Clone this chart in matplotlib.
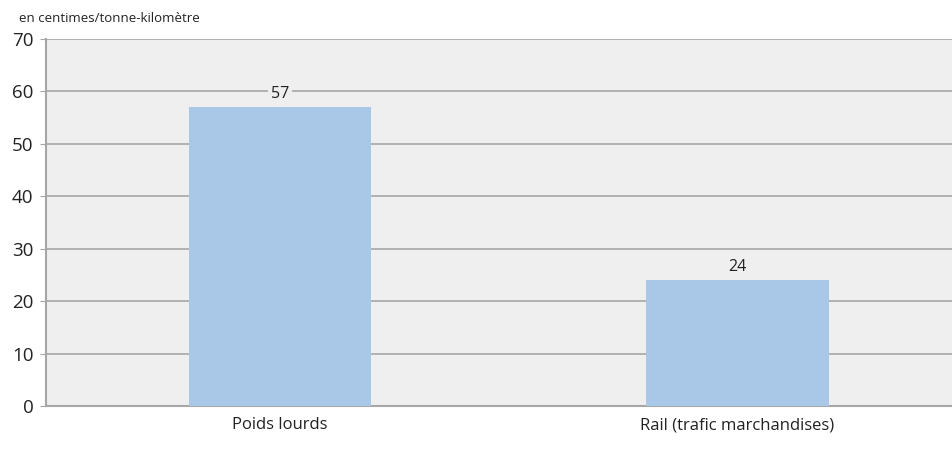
import matplotlib.pyplot as plt

categories = ["Poids lourds", "Rail (trafic marchandises)"]
values = [57, 24]
y_ticks = [0, 10, 20, 30, 40, 50, 60, 70]

plt.rcParams['font.family'] = ['Open Sans', 'DejaVu Sans']

fig = plt.figure(figsize=(9.52, 4.5), dpi=100)
ax = fig.add_axes([46 / 952, 44 / 450, 906 / 952, 367 / 450])

bg = '#efefef'
ax.set_facecolor(bg)
x = list(range(len(categories)))
ax.bar(x, values, width=0.40, color='#a9c8e8', zorder=3)

for xi, v in zip(x, values):
    ax.text(xi, v + 1.0, str(v), ha='center', va='bottom', fontsize=11.5, color='#222222',
            bbox=dict(facecolor=bg, edgecolor='none', pad=2), zorder=4)

ax.set_xlim(-0.512, 1.470)
ax.set_ylim(0, 70)
ax.set_yticks(y_ticks)
ax.yaxis.grid(True, color='#a6a6a6', linewidth=1.2, zorder=0)
ax.set_axisbelow(True)
ax.set_xticks(x)
ax.set_xticklabels(categories, fontsize=12, color='#222222')
ax.tick_params(axis='x', length=0, pad=8)
ax.tick_params(axis='y', length=4, color='#a6a6a6', labelsize=13.5, labelcolor='#222222', pad=5)

for s in ['top', 'right']:
    ax.spines[s].set_visible(False)
for s in ['left', 'bottom']:
    ax.spines[s].set_color('#a6a6a6')
    ax.spines[s].set_linewidth(1.5)

fig.text(19 / 952, 1 - 18 / 450, "en centimes/tonne-kilomètre", fontsize=9.5, color='#222222',
         ha='left', va='center')

fig.savefig('out.png', dpi=100, facecolor='white')
